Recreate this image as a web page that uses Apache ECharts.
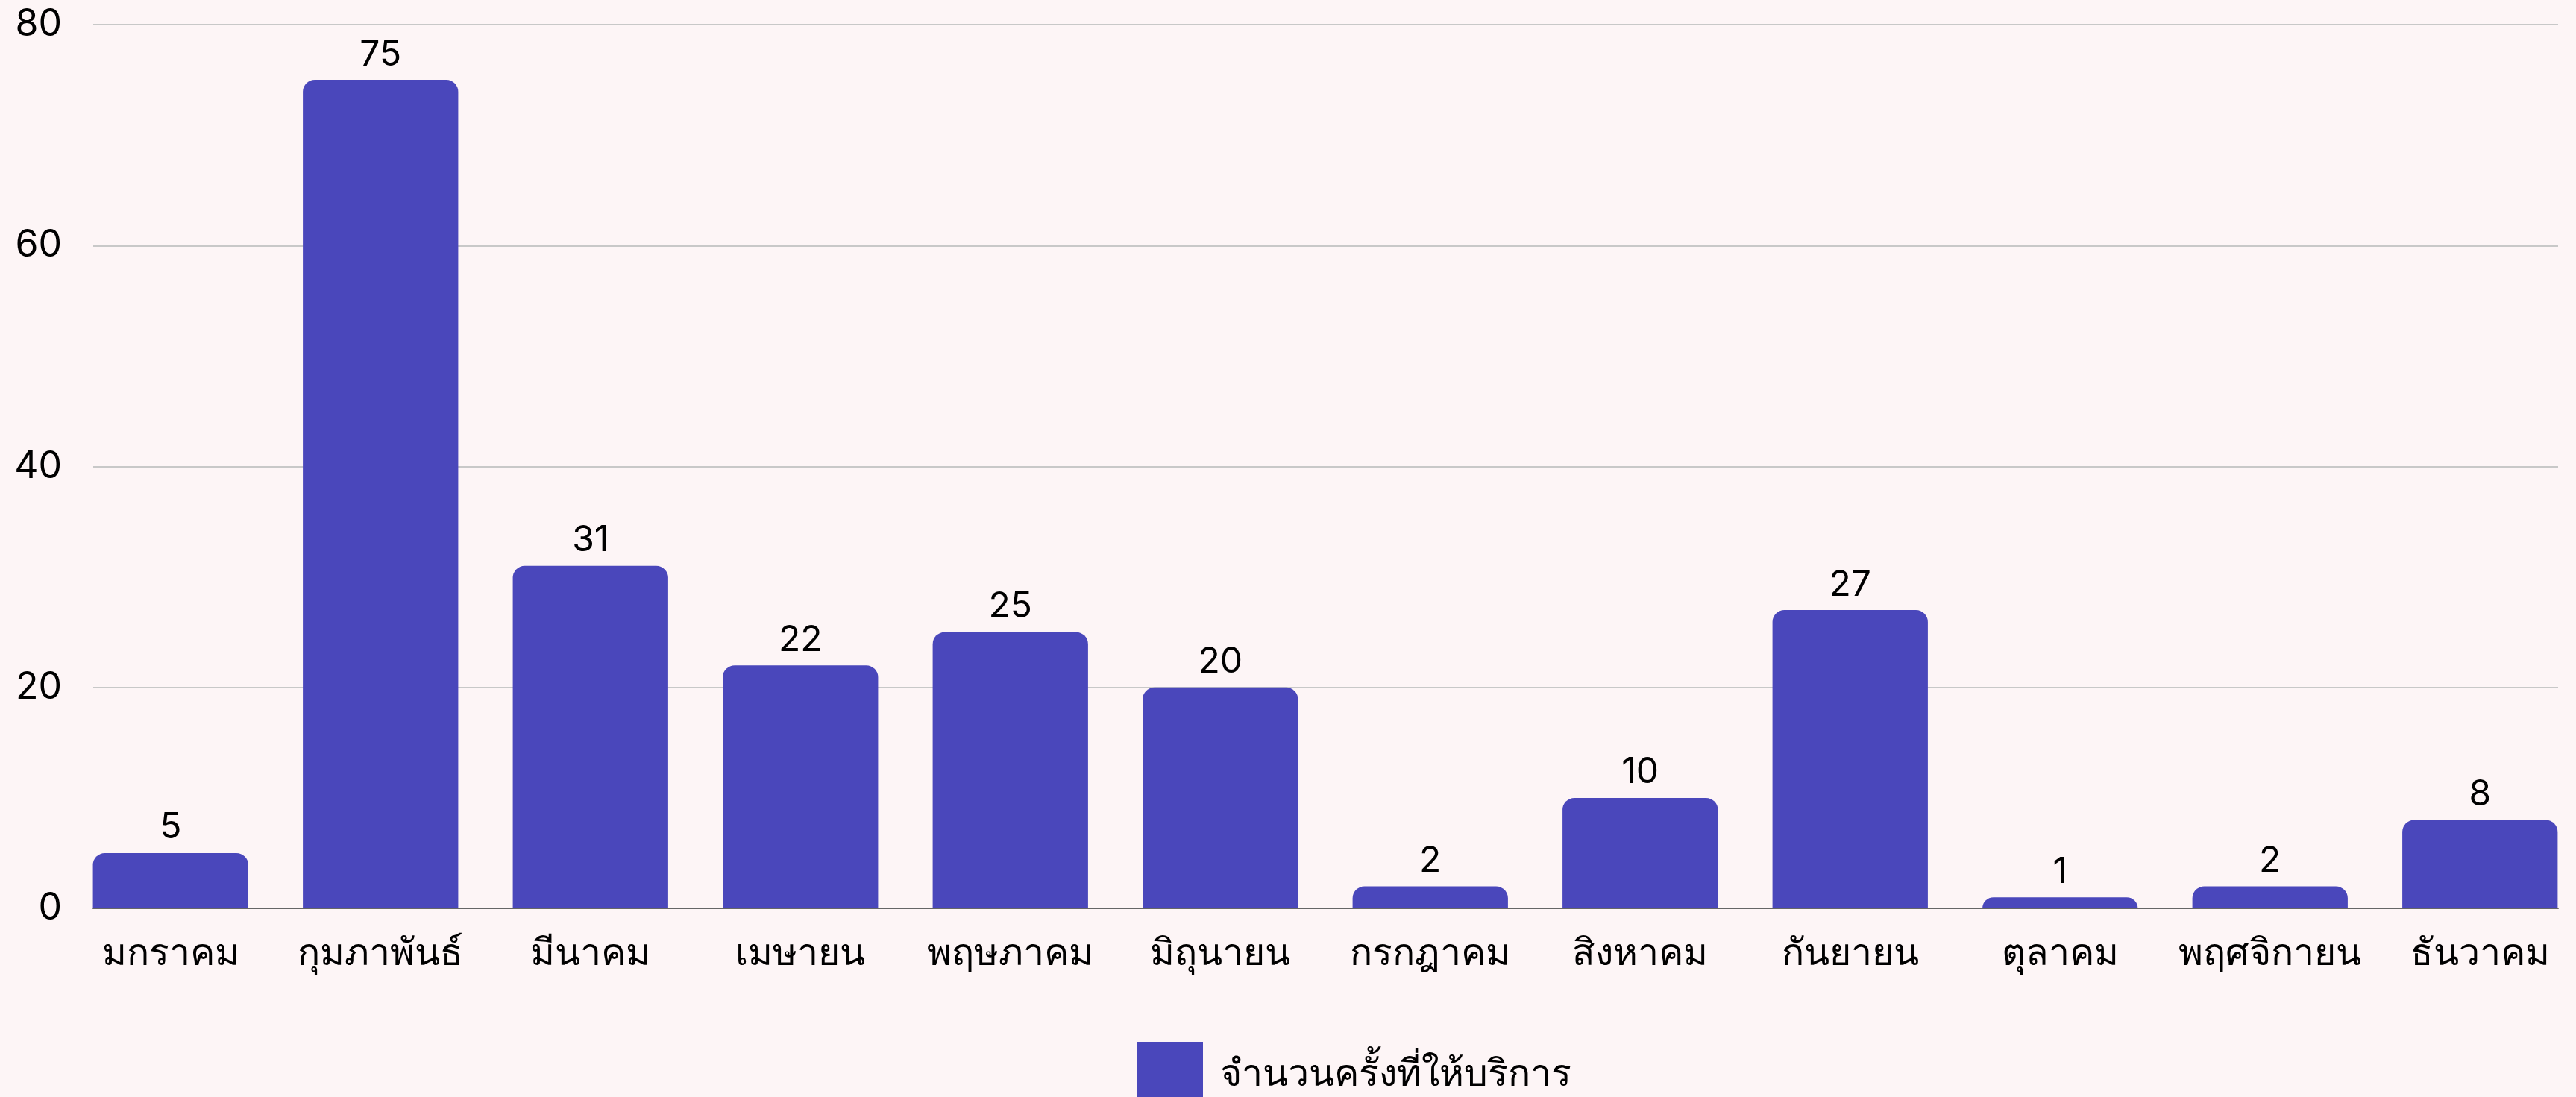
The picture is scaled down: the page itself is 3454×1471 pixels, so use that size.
<!DOCTYPE html>
<html lang="th">
<head>
    <meta charset="UTF-8">
    <title>จำนวนครั้งที่ให้บริการ</title>
    <script src="https://cdn.jsdelivr.net/npm/echarts@6/dist/echarts.min.js"></script>
    <style>
        html, body { margin: 0; padding: 0; background: #fdf5f6; }
    </style>
</head>
<body>
    <div id="main" style="width: 3454px;height: 1471px;"></div>
<script>
    var months = ['มกราคม', 'กุมภาพันธ์', 'มีนาคม', 'เมษายน', 'พฤษภาคม', 'มิถุนายน',
        'กรกฎาคม', 'สิงหาคม', 'กันยายน', 'ตุลาคม', 'พฤศจิกายน', 'ธันวาคม'];
    var serviceCount = [5, 75, 31, 22, 25, 20, 2, 10, 27, 1, 2, 8];
    var seriesName = 'จำนวนครั้งที่ให้บริการ';

    var font = 'Inter, "Noto Sans", sans-serif';
    var myChart = echarts.init(document.getElementById('main'));

    myChart.setOption({
        backgroundColor: '#fdf5f6',
        textStyle: { fontFamily: font },
        // grid 0: bars (bars touch the plot edges like the original)
        // grid 1: grid lines, y labels and the base line
        grid: [
            { left: 88, right: -12, top: 33, bottom: 253, outerBoundsMode: 'none' },
            { left: 125, right: 24, top: 33, bottom: 253, outerBoundsMode: 'none' }
        ],
        legend: {
            data: [seriesName],
            top: 1392,
            left: 1520,
            itemWidth: 88,
            itemHeight: 88,
            icon: 'rect',
            textStyle: { fontSize: 50, color: '#000', fontFamily: font, padding: [0, 0, 0, 18] }
        },
        xAxis: [{
            type: 'category',
            gridIndex: 0,
            data: months,
            axisTick: { show: false },
            axisLine: { show: false },
            axisLabel: { interval: 0, fontSize: 50, color: '#000', margin: 36, fontFamily: font }
        }, {
            type: 'value',
            gridIndex: 1,
            min: 0,
            max: 1,
            axisTick: { show: false },
            axisLabel: { show: false },
            splitLine: { show: false },
            axisLine: { show: true, lineStyle: { color: '#666', width: 2 } }
        }],
        yAxis: [{
            type: 'value',
            gridIndex: 0,
            min: 0,
            max: 80,
            interval: 20,
            axisLine: { show: false },
            axisTick: { show: false },
            axisLabel: { show: false },
            splitLine: { show: false }
        }, {
            type: 'value',
            gridIndex: 1,
            min: 0,
            max: 80,
            interval: 20,
            axisLine: { show: false },
            axisTick: { show: false },
            axisLabel: { fontSize: 50, color: '#000', margin: 42, fontFamily: font },
            splitLine: { lineStyle: { color: '#c8c8c8', width: 2 } }
        }],
        series: [{
            name: seriesName,
            type: 'bar',
            xAxisIndex: 0,
            yAxisIndex: 0,
            z: 3,
            data: serviceCount,
            barCategoryGap: '26%',
            itemStyle: { color: '#4a47bb', borderRadius: [16, 16, 0, 0] },
            label: {
                show: true,
                position: 'top',
                distance: 10,
                fontSize: 48,
                color: '#000',
                fontFamily: font
            }
        }]
    });
</script>
</body>
</html>
